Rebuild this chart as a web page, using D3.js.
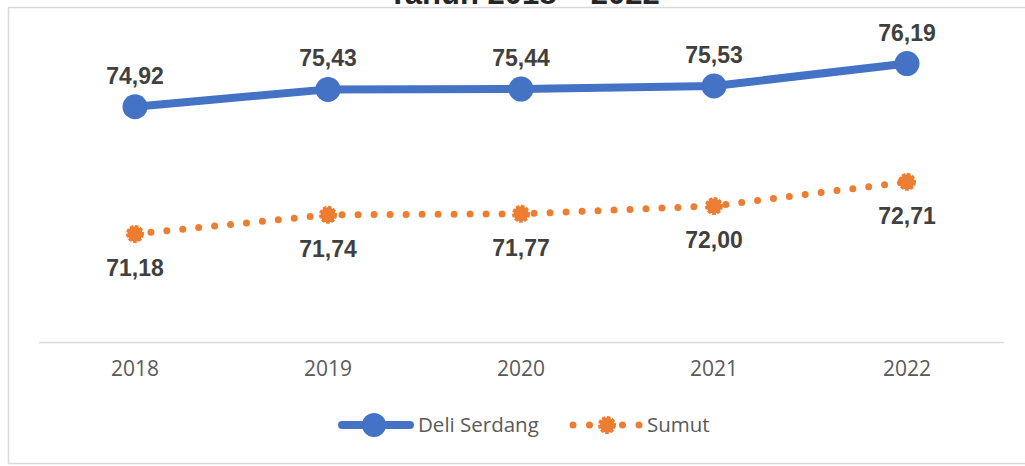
<!DOCTYPE html>
<html>
<head>
<meta charset="utf-8">
<script src="https://cdn.jsdelivr.net/npm/d3@7"></script>
<style>
  body { margin: 0; background: #fff; }
  svg { display: block; }
</style>
</head>
<body>
<svg id="chart" width="1025" height="466"></svg>
<script>
// data
var years = ['2018', '2019', '2020', '2021', '2022'];
var deliSerdang = [74.92, 75.43, 75.44, 75.53, 76.19];
var sumut = [71.18, 71.74, 71.77, 72.00, 72.71];
var seriesNames = ['Deli Serdang', 'Sumut'];
var titleText = 'Tahun 2018 \u2013 2022';

var blue = '#4472C4', orange = '#ED7D31';
var fmt = function(v) { return v.toFixed(2).replace('.', ','); };

var svg = d3.select('#chart');

// outer frame (right edge is outside the picture)
svg.append('rect')
  .attr('x', 8.5).attr('y', 7.5)
  .attr('width', 1040).attr('height', 456)
  .attr('fill', 'none')
  .attr('stroke', '#d9d9d9')
  .attr('stroke-width', 1.5);

// title, cut off at the top like in the source
svg.append('text')
  .attr('x', 524).attr('y', 4)
  .attr('text-anchor', 'middle')
  .attr('font-family', 'Liberation Sans, Arial, sans-serif')
  .attr('font-weight', 'bold')
  .attr('font-size', 31)
  .attr('fill', '#262626')
  .text(titleText);

var x = d3.scaleBand()
  .domain(years)
  .range([38.5, 1003.5]);

var y = d3.scaleLinear()
  .domain([68, 77])
  .range([342, 36]);

var cx = function(d, i) { return x(years[i]) + x.bandwidth() / 2; };

// x axis
var xAxis = svg.append('g')
  .attr('transform', 'translate(0,' + y(68) + ')')
  .call(d3.axisBottom(x).tickSize(0).tickPadding(19));
xAxis.select('.domain').attr('stroke', '#d9d9d9').attr('stroke-width', 1.5);
xAxis.selectAll('text')
  .attr('font-family', 'Open Sans, sans-serif')
  .attr('font-size', 21)
  .attr('fill', '#595959');

var line = d3.line()
  .x(cx)
  .y(function(d) { return y(d); });

// Deli Serdang
svg.append('path')
  .attr('d', line(deliSerdang))
  .attr('fill', 'none')
  .attr('stroke', blue)
  .attr('stroke-width', 8)
  .attr('stroke-linejoin', 'round')
  .attr('stroke-linecap', 'round');

svg.selectAll('circle.ds')
  .data(deliSerdang)
  .enter().append('circle')
  .attr('class', 'ds')
  .attr('cx', cx)
  .attr('cy', function(d) { return y(d); })
  .attr('r', 12.5)
  .attr('fill', blue);

// Sumut (round dots)
svg.append('path')
  .attr('d', line(sumut))
  .attr('fill', 'none')
  .attr('stroke', orange)
  .attr('stroke-width', 7)
  .attr('stroke-dasharray', '0 16')
  .attr('stroke-linecap', 'round');

function orangeMarker(sel) {
  sel.attr('r', 7.5)
    .attr('fill', orange)
    .attr('stroke', orange)
    .attr('stroke-width', 3)
    .attr('stroke-dasharray', '3.5 1.5');
}

svg.selectAll('circle.su')
  .data(sumut)
  .enter().append('circle')
  .attr('class', 'su')
  .attr('cx', cx)
  .attr('cy', function(d) { return y(d); })
  .call(orangeMarker);

// data labels
var labelStyle = function(sel) {
  sel.attr('text-anchor', 'middle')
    .attr('font-family', 'Liberation Sans, Arial, sans-serif')
    .attr('font-weight', 'bold')
    .attr('font-size', 23)
    .attr('fill', '#404040');
};

svg.selectAll('text.dsl')
  .data(deliSerdang)
  .enter().append('text')
  .attr('class', 'dsl')
  .attr('x', cx)
  .attr('y', function(d) { return y(d) - 23; })
  .text(fmt)
  .call(labelStyle);

svg.selectAll('text.sul')
  .data(sumut)
  .enter().append('text')
  .attr('class', 'sul')
  .attr('x', cx)
  .attr('y', function(d) { return y(d) + 42; })
  .text(fmt)
  .call(labelStyle);

// legend
var legend = svg.append('g');
legend.append('line')
  .attr('x1', 342).attr('x2', 410)
  .attr('y1', 425).attr('y2', 425)
  .attr('stroke', blue).attr('stroke-width', 8)
  .attr('stroke-linecap', 'round');
legend.append('circle')
  .attr('cx', 374).attr('cy', 425).attr('r', 12)
  .attr('fill', blue);
legend.append('text')
  .attr('x', 418).attr('y', 432)
  .attr('font-family', 'Open Sans, sans-serif')
  .attr('font-size', 20.5)
  .attr('fill', '#595959')
  .text(seriesNames[0]);

legend.append('line')
  .attr('x1', 573).attr('x2', 640)
  .attr('y1', 425).attr('y2', 425)
  .attr('stroke', orange).attr('stroke-width', 7)
  .attr('stroke-dasharray', '0 16.5')
  .attr('stroke-linecap', 'round');
legend.append('circle')
  .attr('cx', 607).attr('cy', 425)
  .call(orangeMarker);
legend.append('text')
  .attr('x', 647).attr('y', 432)
  .attr('font-family', 'Open Sans, sans-serif')
  .attr('font-size', 20.5)
  .attr('fill', '#595959')
  .text(seriesNames[1]);
</script>
</body>
</html>
